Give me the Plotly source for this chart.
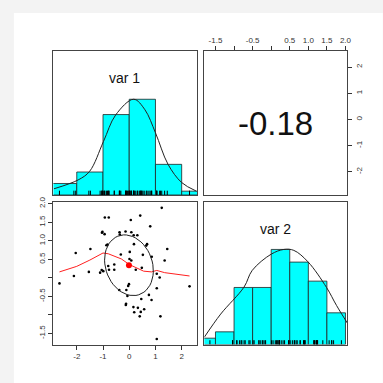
import numpy as np
import plotly.graph_objects as go

# ---------------- data ----------------
var1 = [-2.66, -2.11, -2.04, -1.48, -1.54, -1.11, -1.05, -0.99, -0.93, -0.78,
        -1.04, -0.94, -0.87, -0.83, -0.80, -0.77, -0.57, -0.57, -0.37, -0.36,
        -0.14, 0.08, 0.17, 0.31, 0.06, 0.42, 0.80, 1.24, 0.18, 0.68,
        0.65, 0.02, -0.32, 0.52, 0.86, 1.45, 1.35, 0.01, 0.08, 0.48,
        0.25, 1.05, 1.16, 2.30, -0.01, -0.04, -0.11, -0.38, -0.07, 1.05,
        0.75, 0.85, 0.46, -0.13, 0.16, 0.33, 0.57, 0.19, 0.44, 0.40,
        1.19, 1.05, -1.02, -0.12]
var2 = [-0.15, 0.05, 0.67, 0.78, 0.16, 0.14, 0.21, 0.18, 1.63, 1.63,
        1.22, 1.18, 0.88, 0.90, 0.32, 0.22, 0.36, 0.22, 1.23, 1.17,
        1.25, 1.23, 1.15, 1.15, 1.56, 1.68, 1.39, 1.89, 0.91, 0.91,
        0.87, 0.70, 0.63, 0.62, 0.57, 0.78, 0.47, 0.51, 0.47, 0.27,
        0.22, 0.11, 0.01, -0.23, -0.17, -0.22, -0.33, -0.33, -0.49, -0.28,
        -0.46, -0.60, -0.57, -0.73, -0.79, -0.81, -0.85, -0.93, -0.92, -1.04,
        -1.04, -1.65, 1.24, -0.70]

# histogram bin edges and counts
var1_edges = [-3, -2, -1, 0, 1, 2, 3]
var1_counts = [3, 6, 21, 25, 8, 1]
var2_edges = [-2.0, -1.5, -1.0, -0.5, 0.0, 0.5, 1.0, 1.5, 2.0]
var2_counts = [1, 2, 9, 9, 15, 13, 10, 5]

# density curves (scaled to max 1)
dens1_x = [-2.87, -1.95, -1.51, -0.98, -0.52, 0.17, 0.60, 1.00, 1.48, 2.00, 2.56]
dens1_y = [0.065, 0.157, 0.247, 0.56, 0.835, 1.0, 0.89, 0.65, 0.32, 0.13, 0.04]
dens2_x = [-1.80, -1.36, -0.73, -0.51, 0.00, 0.34, 0.61, 0.99, 1.49, 1.76, 2.06]
dens2_y = [0.077, 0.32, 0.605, 0.78, 0.95, 1.0, 0.99, 0.87, 0.60, 0.41, 0.22]

# lowess smooth
smooth_x = [-2.66, -2.0, -1.5, -1.0, -0.8, -0.6, -0.3, 0.0, 0.3, 0.55, 0.85, 1.05, 1.35, 1.8, 2.30]
smooth_y = [0.16, 0.31, 0.48, 0.67, 0.65, 0.60, 0.51, 0.36, 0.27, 0.18, 0.16, 0.20, 0.14, 0.10, 0.05]

# summary statistics
mean1, mean2 = -0.01, 0.34
sd1, sd2 = 0.93, 0.82
r12 = -0.18
corr_label = "-0.18"

# axis ticks
v1_ticks = [-2, -1, 0, 1, 2]
v1_ticktext = ["-2", "-1", "0", "1", "2"]
v2_ticks = [-1.5, -1.0, -0.5, 0.0, 0.5, 1.0, 1.5, 2.0]
v2_ticktext = ["-1.5", "", "-0.5", "", "0.5", "1.0", "1.5", "2.0"]

# ---------------- layout helpers ----------------
W = H = 383
def fx(px): return px / W
def fy(py): return 1 - py / H

col1 = [fx(54), fx(199.5)]
col2 = [fx(206.5), fx(351)]
row1 = [fy(192.5), fy(47)]
row2 = [fy(344), fy(199.5)]
r1 = [-2.89, 2.60]
r2 = [-1.80, 2.05]

fig = go.Figure()

def hist_traces(edges, counts, xa, ya):
    m = max(counts)
    e = np.array(edges, dtype=float)
    centers = (e[:-1] + e[1:]) / 2
    widths = np.diff(e)
    fig.add_trace(go.Bar(x=centers, y=[c / m for c in counts], width=widths, base=0,
                         marker=dict(color="#00FFFF", line=dict(color="#222", width=0.8)),
                         xaxis=xa, yaxis=ya, showlegend=False, hoverinfo="skip"))

def rug_trace(vals, xa, ya):
    xs, ys = [], []
    for v in vals:
        xs += [v, v, None]
        ys += [0, 0.045, None]
    fig.add_trace(go.Scatter(x=xs, y=ys, mode="lines", line=dict(color="black", width=1),
                             xaxis=xa, yaxis=ya, showlegend=False, hoverinfo="skip"))

# top-left: var 1 histogram
hist_traces(var1_edges, var1_counts, "x", "y")
fig.add_trace(go.Scatter(x=dens1_x, y=dens1_y, mode="lines", line=dict(color="#222", width=1, shape="spline"),
                         xaxis="x", yaxis="y", showlegend=False))
rug_trace(var1, "x", "y")

# bottom-right: var 2 histogram
hist_traces(var2_edges, var2_counts, "x4", "y4")
fig.add_trace(go.Scatter(x=dens2_x, y=dens2_y, mode="lines", line=dict(color="#222", width=1, shape="spline"),
                         xaxis="x4", yaxis="y4", showlegend=False))
rug_trace(var2, "x4", "y4")

# bottom-left: scatter
fig.add_trace(go.Scatter(x=var1, y=var2, mode="markers", marker=dict(color="black", size=2.6),
                         xaxis="x3", yaxis="y3", showlegend=False))
fig.add_trace(go.Scatter(x=smooth_x, y=smooth_y, mode="lines", line=dict(color="#FF2020", width=1),
                         xaxis="x3", yaxis="y3", showlegend=False))
ang = np.linspace(0, 2 * np.pi, 52)
t = np.sign(r12) / np.sqrt(2)
a, b = np.sqrt(1 + r12), np.sqrt(1 - r12)
ex = (a * t * np.cos(ang) - b * t * np.sin(ang)) * sd1 + mean1
ey = (a * t * np.cos(ang) + b * t * np.sin(ang)) * sd2 + mean2
fig.add_trace(go.Scatter(x=ex, y=ey, mode="lines", line=dict(color="#222", width=1),
                         xaxis="x3", yaxis="y3", showlegend=False))
fig.add_trace(go.Scatter(x=[mean1], y=[mean2], mode="markers", marker=dict(color="#FF0000", size=6),
                         xaxis="x3", yaxis="y3", showlegend=False))

# top-right: empty panel carrying axes
fig.add_trace(go.Scatter(x=[None], y=[None], mode="markers", xaxis="x2", yaxis="y2", showlegend=False))

font = "Liberation Sans, Arial, sans-serif"
tickfont = dict(family=font, size=8, color="#333")
box = dict(showline=True, linecolor="#444", linewidth=1, mirror=True, showgrid=False, zeroline=False)
noticks = dict(showticklabels=False, ticks="")

fig.update_layout(
    width=W, height=H, margin=dict(l=0, r=0, t=0, b=0),
    paper_bgcolor="#f3f3f3", plot_bgcolor="white",
    xaxis=dict(domain=col1, range=r1, anchor="y", **box, **noticks),
    yaxis=dict(domain=row1, range=[0, 1.5], anchor="x", **box, **noticks),
    xaxis2=dict(domain=col2, range=r2, anchor="y2", side="top", tickvals=v2_ticks, ticktext=v2_ticktext,
                ticks="outside", ticklen=4, tickcolor="#333", tickfont=tickfont, **box),
    yaxis2=dict(domain=row1, range=r1, anchor="x2", side="right", tickvals=v1_ticks, ticktext=v1_ticktext,
                ticks="outside", ticklen=4, tickcolor="#333", tickfont=tickfont, tickangle=-90, **box),
    xaxis3=dict(domain=col1, range=r1, anchor="y3", tickvals=v1_ticks, ticktext=v1_ticktext,
                ticks="outside", ticklen=4, tickcolor="#333", tickfont=tickfont, **box),
    yaxis3=dict(domain=row2, range=r2, anchor="x3", tickvals=v2_ticks, ticktext=v2_ticktext,
                ticks="outside", ticklen=4, tickcolor="#333", tickfont=tickfont, tickangle=-90, **box),
    xaxis4=dict(domain=col2, range=r2, anchor="y4", **box, **noticks),
    yaxis4=dict(domain=row2, range=[0, 1.5], anchor="x4", **box, **noticks),
    shapes=[dict(type="rect", xref="paper", yref="paper", x0=fx(14), x1=1.01, y0=-0.01, y1=fy(8),
                 fillcolor="white", line=dict(width=0), layer="below")],
    annotations=[
        dict(text="var 1", x=fx(126), y=fy(74), xref="paper", yref="paper", showarrow=False,
             font=dict(family=font, size=14, color="#111"), xanchor="center", yanchor="middle"),
        dict(text="var 2", x=fx(278), y=fy(227), xref="paper", yref="paper", showarrow=False,
             font=dict(family=font, size=14, color="#111"), xanchor="center", yanchor="middle"),
        dict(text=corr_label, x=fx(278), y=fy(120), xref="paper", yref="paper", showarrow=False,
             font=dict(family=font, size=33, color="#111"), xanchor="center", yanchor="middle"),
    ],
)

fig.write_html("out.html", config={"displayModeBar": False},
               post_script="document.body.style.margin='0';document.body.style.overflow='hidden';"
                           "document.body.style.background='#f3f3f3';")
